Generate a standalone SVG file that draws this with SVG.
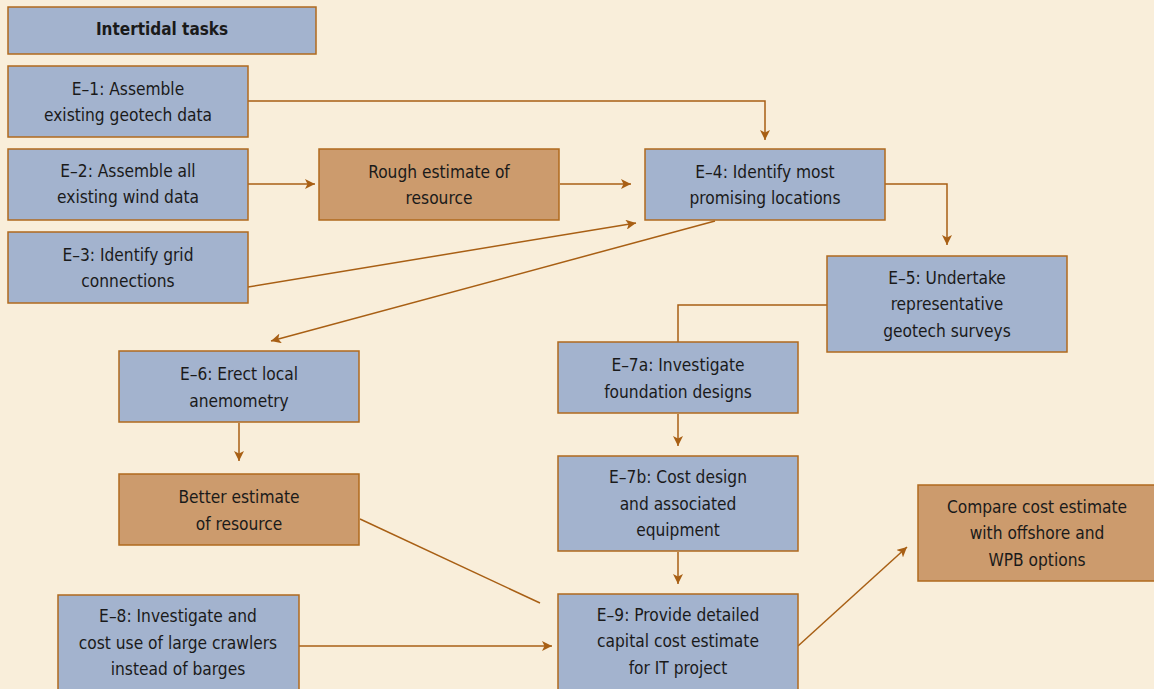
<svg xmlns="http://www.w3.org/2000/svg" width="1154" height="689" viewBox="0 0 1154 689">
<style>
.bg{fill:#F9EEDA}
.b{fill:#A3B3CE;stroke:#B06A1E;stroke-width:1.5}
.t{fill:#CC9B6D;stroke:#B06A1E;stroke-width:1.5}
text{font-family:"Liberation Sans Narrow","DejaVu Sans Condensed","Liberation Sans",sans-serif;font-stretch:condensed;font-size:17.2px;fill:#1a1a1a;text-anchor:middle}
.h{font-weight:bold;font-size:17px}
.c{fill:none;stroke:#A85F14;stroke-width:1.5}
</style>
<defs>
<marker id="ah" viewBox="0 0 10 10" refX="10" refY="5" markerWidth="10" markerHeight="10" markerUnits="userSpaceOnUse" orient="auto">
<path d="M0,0 L10,5 L0,10 L2.5,5 Z" fill="#A85F14"/>
</marker>
</defs>
<rect class="bg" x="0" y="0" width="1154" height="689"/>
<g id="connectors">
<polyline class="c" points="248,101 765,101 765,140" marker-end="url(#ah)"/>
<line class="c" x1="248" y1="184" x2="315" y2="184" marker-end="url(#ah)"/>
<line class="c" x1="560" y1="184" x2="631" y2="184" marker-end="url(#ah)"/>
<line class="c" x1="248" y1="287" x2="636" y2="223" marker-end="url(#ah)"/>
<line class="c" x1="715" y1="221" x2="271" y2="341" marker-end="url(#ah)"/>
<polyline class="c" points="885,184 947,184 947,245" marker-end="url(#ah)"/>
<polyline class="c" points="827,305 678,305 678,342"/>
<line class="c" x1="239" y1="423" x2="239" y2="461" marker-end="url(#ah)"/>
<line class="c" x1="678" y1="414" x2="678" y2="446" marker-end="url(#ah)"/>
<line class="c" x1="678" y1="552" x2="678" y2="584" marker-end="url(#ah)"/>
<line class="c" x1="360" y1="519" x2="540" y2="603"/>
<line class="c" x1="299" y1="646" x2="552" y2="646" marker-end="url(#ah)"/>
<line class="c" x1="798" y1="646" x2="907" y2="547" marker-end="url(#ah)"/>
</g>
<g id="title"><rect class="b" x="8" y="7" width="308" height="47"/><text class="h" x="162" y="35">Intertidal tasks</text></g>
<g id="E1"><rect class="b" x="8" y="66" width="240" height="71"/><text x="128" y="95">E–1: Assemble</text><text x="128" y="121">existing geotech data</text></g>
<g id="E2"><rect class="b" x="8" y="149" width="240" height="71"/><text x="128" y="177">E–2: Assemble all</text><text x="128" y="203">existing wind data</text></g>
<g id="E3"><rect class="b" x="8" y="232" width="240" height="71"/><text x="128" y="261">E–3: Identify grid</text><text x="128" y="287">connections</text></g>
<g id="rough"><rect class="t" x="319" y="149" width="240" height="71"/><text x="439" y="178">Rough estimate of</text><text x="439" y="204">resource</text></g>
<g id="E4"><rect class="b" x="645" y="149" width="240" height="71"/><text x="765" y="178">E–4: Identify most</text><text x="765" y="204">promising locations</text></g>
<g id="E5"><rect class="b" x="827" y="256" width="240" height="96"/><text x="947" y="284">E–5: Undertake</text><text x="947" y="310">representative</text><text x="947" y="337">geotech surveys</text></g>
<g id="E6"><rect class="b" x="119" y="351" width="240" height="71"/><text x="239" y="380">E–6: Erect local</text><text x="239" y="407">anemometry</text></g>
<g id="better"><rect class="t" x="119" y="474" width="240" height="71"/><text x="239" y="503">Better estimate</text><text x="239" y="530">of resource</text></g>
<g id="E7a"><rect class="b" x="558" y="342" width="240" height="71"/><text x="678" y="371">E–7a: Investigate</text><text x="678" y="398">foundation designs</text></g>
<g id="E7b"><rect class="b" x="558" y="456" width="240" height="95"/><text x="678" y="483">E–7b: Cost design</text><text x="678" y="510">and associated</text><text x="678" y="536">equipment</text></g>
<g id="compare"><rect class="t" x="918" y="485" width="240" height="96"/><text x="1037" y="513">Compare cost estimate</text><text x="1037" y="539">with offshore and</text><text x="1037" y="566">WPB options</text></g>
<g id="E8"><rect class="b" x="58" y="595" width="241" height="100"/><text x="178" y="622">E–8: Investigate and</text><text x="178" y="649">cost use of large crawlers</text><text x="178" y="675">instead of barges</text></g>
<g id="E9"><rect class="b" x="558" y="594" width="240" height="100"/><text x="678" y="621">E–9: Provide detailed</text><text x="678" y="647">capital cost estimate</text><text x="678" y="674">for IT project</text></g>
</svg>
